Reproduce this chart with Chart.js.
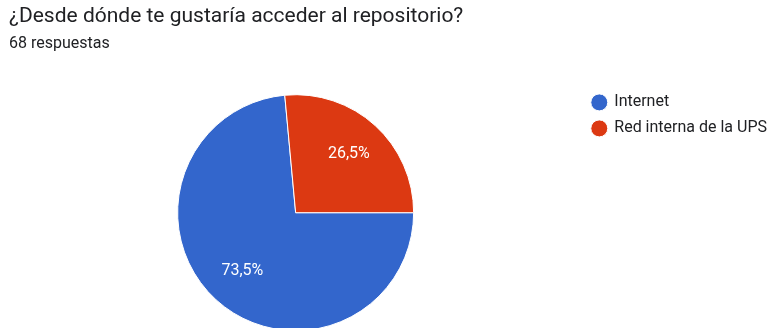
<!DOCTYPE html>
<html>
<head>
<meta charset="utf-8">
<script src="https://cdn.jsdelivr.net/npm/chart.js@4.4.1/dist/chart.umd.min.js"></script>
<style>
  html, body { margin: 0; padding: 0; background: #fff; overflow: hidden; }
  #wrap { width: 767px; height: 328px; overflow: hidden; }
</style>
</head>
<body>
<div id="wrap">
  <canvas id="myChart" width="767" height="350"></canvas>
</div>
<script>
// data read from the form summary
const question = '¿Desde dónde te gustaría acceder al repositorio?';
const answers = ['Internet', 'Red interna de la UPS'];
const counts = [50, 18];
const colors = ['#3366cc', '#dc3912'];

const total = counts.reduce((a, b) => a + b, 0);

// percentage text inside each slice
const sliceLabels = {
  id: 'sliceLabels',
  afterDatasetsDraw(chart) {
    const ctx = chart.ctx;
    const meta = chart.getDatasetMeta(0);
    ctx.save();
    ctx.fillStyle = '#ffffff';
    ctx.font = '16px Roboto';
    ctx.textAlign = 'center';
    ctx.textBaseline = 'middle';
    meta.data.forEach(function(arc, i) {
      const p = arc.getProps(['x', 'y', 'startAngle', 'endAngle', 'outerRadius']);
      const mid = (p.startAngle + p.endAngle) / 2;
      const r = p.outerRadius * 0.67;
      const pct = (counts[i] / total * 100).toFixed(1).replace('.', ',') + '%';
      ctx.fillText(pct, p.x + Math.cos(mid) * r, p.y + Math.sin(mid) * r);
    });
    ctx.restore();
  }
};

const ctx = document.getElementById('myChart').getContext('2d');

let myChart = new Chart(ctx, {
  type: 'pie',
  data: {
    labels: answers,
    datasets: [{
      data: counts,
      backgroundColor: colors,
      borderColor: '#ffffff',
      borderWidth: 1
    }]
  },
  options: {
    responsive: false,
    animation: false,
    rotation: 90,
    radius: 118,
    layout: {
      padding: { left: 9, right: -10, top: 0, bottom: 9 }
    },
    plugins: {
      title: {
        display: true,
        text: question,
        align: 'start',
        color: '#202124',
        font: { family: 'Roboto', size: 21, weight: 'normal' },
        padding: { top: 4, bottom: 2 }
      },
      subtitle: {
        display: true,
        text: total + ' respuestas',
        align: 'start',
        color: '#202124',
        font: { family: 'Roboto', size: 16, weight: 'normal' },
        padding: { top: 3, bottom: 31 }
      },
      legend: {
        position: 'right',
        align: 'start',
        fullSize: false,
        labels: {
          usePointStyle: true,
          pointStyle: 'circle',
          boxWidth: 14,
          boxHeight: 12,
          color: '#202124',
          padding: 10,
          font: { family: 'Roboto', size: 16 }
        }
      },
      tooltip: { enabled: false }
    }
  },
  plugins: [sliceLabels]
});
</script>
</body>
</html>
